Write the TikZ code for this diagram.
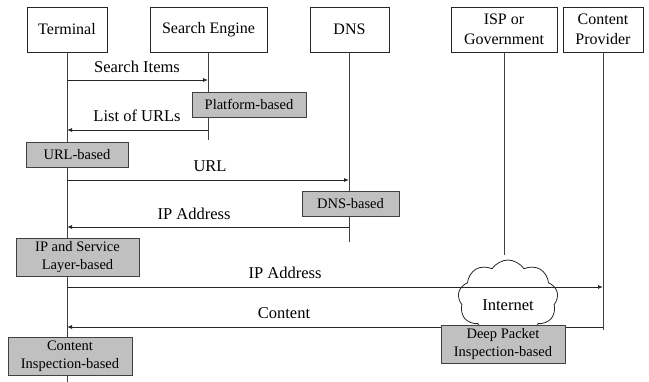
\documentclass[tikz,border=0pt]{standalone}
\usepackage{fontspec}
\setmainfont{Liberation Serif}
\newfontfamily\diagfont{Liberation Serif}
\usetikzlibrary{shapes.symbols,arrows.meta}
\definecolor{boxgray}{HTML}{C0C0C0}
\definecolor{edgegray}{HTML}{404040}
\begin{document}
\begin{tikzpicture}[x=1pt,y=-1pt,
  actor/.style={draw=black!85, line width=0.8pt, fill=white, minimum height=45pt,
    inner sep=0pt, align=center, font=\diagfont\fontsize{16}{20}\selectfont},
  filter/.style={draw=edgegray, line width=0.8pt, fill=boxgray, inner sep=0pt,
    align=center, font=\diagfont\fontsize{14.5}{17.5}\selectfont},
  life/.style={draw=black!75, line width=0.8pt},
  msg/.style={draw=black!85, line width=0.8pt, -{Latex[length=5pt,width=4pt]}},
  msglabel/.style={font=\diagfont\fontsize{16.5}{19}\selectfont, inner sep=1pt}]
\useasboundingbox (0,0) rectangle (649,382);

% participants
\node[actor, minimum width=80pt]  (term) at (67,29.5)    {Terminal};
\node[actor, minimum width=117pt] (se)   at (208.5,29.5) {Search Engine};
\node[actor, minimum width=79pt]  (dns)  at (349.5,29.5) {DNS};
\node[actor, minimum width=106pt] (isp)  at (504,29.5)   {ISP or\\Government};
\node[actor, minimum width=80pt]  (cp)   at (603,29.5)   {Content\\Provider};

% lifeline ends
\coordinate (termEnd) at (67,382);
\coordinate (seEnd)   at (208,140);
\coordinate (dnsEnd)  at (349,242);
\coordinate (ispEnd)  at (504,255);
\coordinate (cpEnd)   at (603,330);

\draw[life] (term.south) -- (termEnd);
\draw[life] (se.south -| seEnd) -- (seEnd);
\draw[life] (dns.south -| dnsEnd) -- (dnsEnd);
\draw[life] (isp.south) -- (ispEnd);
\draw[life] (cp.south) -- (cpEnd);

% the network cloud
\node[cloud, draw=black!85, fill=white, line width=0.8pt, cloud puffs=9,
  cloud puff arc=115, cloud ignores aspect, minimum width=100pt,
  minimum height=78pt] (net) at (508,299) {};
\node[msglabel] (netlabel) at (508,305) {Internet};

% message rows
\coordinate (r1) at (0,80);
\coordinate (r2) at (0,130);
\coordinate (r3) at (0,180);
\coordinate (r4) at (0,227);
\coordinate (r5) at (0,287);
\coordinate (r6) at (0,327);

\draw[msg] (termEnd |- r1) -- (seEnd |- r1);
\draw[msg] (seEnd |- r2) -- (termEnd |- r2);
\draw[msg] (termEnd |- r3) -- (dnsEnd |- r3);
\draw[msg] (dnsEnd |- r4) -- (termEnd |- r4);
\draw[msg] (termEnd |- r5) -- (cpEnd |- r5);
\draw[msg] (cpEnd |- r6) -- (termEnd |- r6);

\node[msglabel] (l1) at (137,67)  {Search Items};
\node[msglabel] (l2) at (137,116) {List of URLs};
\node[msglabel] (l3) at (210,166) {URL};
\node[msglabel] (l4) at (194,214) {IP Address};
\node[msglabel] (l5) at (285,273) {IP Address};
\node[msglabel] (l6) at (284,313) {Content};

% filtering points
\node[filter, minimum width=114pt, minimum height=25pt] (plat) at (249,104.5) {Platform-based};
\node[filter, minimum width=102pt, minimum height=25pt] (urlb) at (77,154.5)  {URL-based};
\node[filter, minimum width=97pt,  minimum height=25pt] (dnsb) at (350.5,203.5) {DNS-based};
\node[filter, minimum width=123pt, minimum height=38pt] (ipb)  at (77.5,257) {IP and Service\\Layer-based};
\node[filter, minimum width=124pt, minimum height=38pt] (dpi)  at (503,344) {Deep Packet\\Inspection-based};
\node[filter, minimum width=124pt, minimum height=38pt] (cib)  at (70,356)  {Content\\Inspection-based};
\end{tikzpicture}
\end{document}
